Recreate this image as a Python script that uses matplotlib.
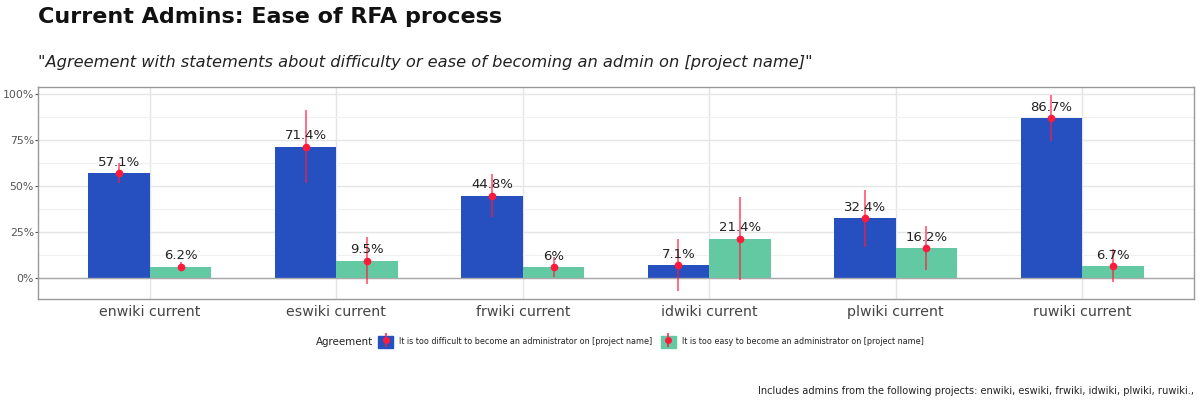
import matplotlib
matplotlib.use("Agg")
import matplotlib.pyplot as plt
from matplotlib.patches import Patch
from matplotlib.lines import Line2D
from matplotlib.legend_handler import HandlerTuple
import numpy as np

plt.rcParams['font.family'] = ['DejaVu Sans']

categories = ["enwiki current", "eswiki current", "frwiki current",
              "idwiki current", "plwiki current", "ruwiki current"]
difficult = [57.1, 71.4, 44.8, 7.1, 32.4, 86.7]
difficult_err = [5.3, 19.8, 11.9, 14.1, 15.4, 12.5]
easy = [6.2, 9.5, 6.0, 21.4, 16.2, 6.7]
easy_err = [2.5, 13.0, 5.6, 22.5, 12.1, 9.1]
difficult_labels = ["57.1%", "71.4%", "44.8%", "7.1%", "32.4%", "86.7%"]
easy_labels = ["6.2%", "9.5%", "6%", "21.4%", "16.2%", "6.7%"]
series_names = ["It is too difficult to become an administrator on [project name]",
                "It is too easy to become an administrator on [project name]"]

blue = "#264FC0"
green = "#63C9A3"
red = "#FF1A3C"

fig = plt.figure(figsize=(12, 4), dpi=100)
renderer = fig.canvas.get_renderer()


def fit_size(text, target_px, base=10, **kw):
    t = fig.text(0, 0, text, fontsize=base, **kw)
    wpx = t.get_window_extent(renderer=renderer).width
    t.remove()
    return base * target_px / wpx


title_fs = fit_size("Current Admins: Ease of RFA process", 466, fontweight='bold')
sub_fs = fit_size('"Agreement with statements about difficulty or ease of becoming an admin on [project name]"',
                  770, style='italic')
cap_fs = fit_size("Includes admins from the following projects: enwiki, eswiki, frwiki, idwiki, plwiki, ruwiki.,", 434)
leg_fs = fit_size(series_names[0], 250)
xt_fs = fit_size("enwiki current", 101)
bl_fs = fit_size("57.1%", 42)
yt_fs = fit_size("100%", 31)
agr_fs = fit_size("Agreement", 57)

ax = fig.add_axes([38/1200, 1 - 299/400, (1194-38)/1200, (299-87)/400])

x = np.arange(len(categories))
w = 0.33
ax.bar(x - w/2, difficult, width=w, color=blue, zorder=2)
ax.bar(x + w/2, easy, width=w, color=green, zorder=2)

ax.errorbar(x - w/2, difficult, yerr=difficult_err, fmt='none', ecolor=red,
            elinewidth=1.1, alpha=0.8, zorder=3)
ax.errorbar(x + w/2, easy, yerr=easy_err, fmt='none', ecolor=red,
            elinewidth=1.1, alpha=0.8, zorder=3)
ax.plot(x - w/2, difficult, 'o', color=red, ms=4.5, zorder=4)
ax.plot(x + w/2, easy, 'o', color=red, ms=4.5, zorder=4)

for xi, v, lab in zip(x - w/2, difficult, difficult_labels):
    ax.annotate(lab, (xi, v), xytext=(0, 3), textcoords='offset points',
                ha='center', va='bottom', fontsize=bl_fs, color='#222222', zorder=5)
for xi, v, lab in zip(x + w/2, easy, easy_labels):
    ax.annotate(lab, (xi, v), xytext=(0, 3), textcoords='offset points',
                ha='center', va='bottom', fontsize=bl_fs, color='#222222', zorder=5)

ax.set_xlim(-0.6, len(categories) - 1 + 0.6)
ax.set_ylim(-11.4, 103.8)
ax.set_yticks([0, 25, 50, 75, 100])
ax.set_yticklabels(["0%", "25%", "50%", "75%", "100%"])
ax.set_yticks([12.5, 37.5, 62.5, 87.5], minor=True)
ax.set_xticks(x)
ax.set_xticklabels(categories)
ax.grid(True, which='major', color='#E5E5E5', lw=1.0, zorder=0)
ax.grid(True, which='minor', axis='y', color='#F0F0F0', lw=0.8, zorder=0)
ax.axhline(0, color='#AAAAAA', lw=1.0, zorder=2.5)
ax.tick_params(axis='y', which='major', labelsize=yt_fs, colors='#555555', length=2,
               color='#555555', pad=1)
ax.tick_params(axis='y', which='minor', length=0)
ax.tick_params(axis='x', labelsize=xt_fs, colors='#444444', length=0, pad=4)
for s in ax.spines.values():
    s.set_color('#999999')
    s.set_linewidth(1.0)

fig.text(38/1200, 1 - 17/400, "Current Admins: Ease of RFA process", fontsize=title_fs,
         fontweight='bold', ha='left', va='center', color='#111111')
fig.text(38/1200, 1 - 62/400,
         '"Agreement with statements about difficulty or ease of becoming an admin on [project name]"',
         fontsize=sub_fs, style='italic', ha='left', va='center', color='#222222')
fig.text(1194/1200, 1 - 391/400,
         "Includes admins from the following projects: enwiki, eswiki, frwiki, idwiki, plwiki, ruwiki.,",
         fontsize=cap_fs, ha='right', va='center', color='#222222')

fig.text(316/1200, 1 - 342/400, "Agreement", fontsize=agr_fs, ha='left', va='center', color='#222222')
h1 = (Patch(color=blue), Line2D([], [], marker='|', ms=10, color=red, ls='none', mew=1.1),
      Line2D([], [], marker='o', ms=4, color=red, ls='none'))
h2 = (Patch(color=green), Line2D([], [], marker='|', ms=10, color=red, ls='none', mew=1.1),
      Line2D([], [], marker='o', ms=4, color=red, ls='none'))
hl = 15 / (leg_fs * 100 / 72)
hh = 17 / (leg_fs * 100 / 72)
fig.legend([h1, h2], series_names, handler_map={tuple: HandlerTuple(ndivide=1, pad=0)},
           loc='center left', bbox_to_anchor=(378/1200, 1 - 342/400), ncol=2, frameon=False,
           fontsize=leg_fs, handlelength=hl, handleheight=hh, handletextpad=0.8,
           columnspacing=1.0, labelcolor='#222222', borderpad=0, borderaxespad=0)

fig.savefig("out.png", dpi=100)
